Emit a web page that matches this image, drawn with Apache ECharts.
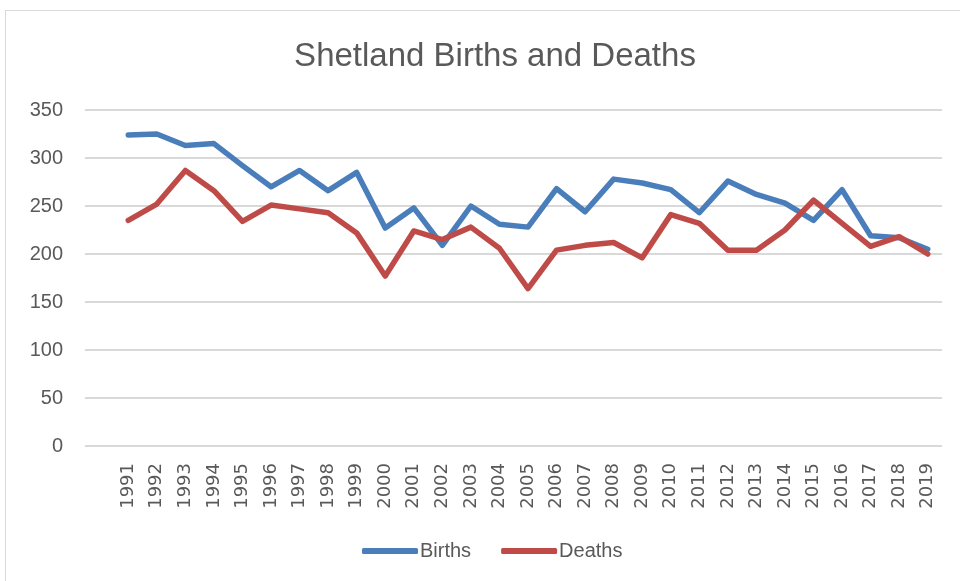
<!DOCTYPE html>
<html>
<head>
<meta charset="utf-8">
<script src="https://cdn.jsdelivr.net/npm/echarts@6/dist/echarts.min.js"></script>
<style>
  html, body { margin: 0; padding: 0; background: #fff; }
  #chart1 { position: absolute; left: 0; top: 0; width: 960px; height: 581px; }
  #frame { position: absolute; left: 5px; top: 10px; width: 960px; height: 580px; border: 1px solid #d9d9d9; pointer-events: none; }
</style>
</head>
<body>
<div id="frame"></div>
<div id="chart1"></div>
<script>
var years = ['1991','1992','1993','1994','1995','1996','1997','1998','1999','2000',
             '2001','2002','2003','2004','2005','2006','2007','2008','2009','2010',
             '2011','2012','2013','2014','2015','2016','2017','2018','2019'];
var births = [324, 325, 313, 315, 292, 270, 287, 266, 285, 227,
              248, 209, 250, 231, 228, 268, 244, 278, 274, 267,
              243, 276, 262, 253, 235, 267, 219, 217, 205];
var deaths = [235, 252, 287, 266, 234, 251, 247, 243, 222, 177,
              224, 215, 228, 206, 164, 204, 209, 212, 196, 241,
              232, 204, 204, 225, 256, 232, 208, 218, 200];
var yTicks = { min: 0, max: 350, interval: 50 };

var myChart1 = echarts.init(document.getElementById('chart1'));

var textColor = '#595959';
var option = {
    animation: false,
    title: {
        text: 'Shetland Births and Deaths',
        left: 490,
        textAlign: 'center',
        top: 35,
        textStyle: { fontFamily: 'Liberation Sans', fontSize: 33, fontWeight: 'normal', color: textColor }
    },
    legend: {
        data: ['Births', 'Deaths'],
        left: 357,
        top: 536,
        icon: 'roundRect',
        itemWidth: 56,
        itemHeight: 6,
        itemGap: 30,
        textStyle: { fontFamily: 'Liberation Sans', fontSize: 20, color: textColor, padding: [0, 0, 0, -3] }
    },
    grid: [
        { left: 114, right: 18, top: 110, bottom: 135 },
        { left: 85, right: 18, top: 110, bottom: 135 }
    ],
    xAxis: [
        {
            type: 'category',
            gridIndex: 0,
            data: years,
            boundaryGap: true,
            axisLine: { show: false },
            axisTick: { show: false },
            axisLabel: {
                rotate: 90,
                interval: 0,
                margin: 17,
                fontFamily: 'DejaVu Sans',
                fontSize: 18,
                color: textColor
            }
        },
        {
            type: 'category',
            gridIndex: 1,
            data: years,
            show: false
        }
    ],
    yAxis: [
        {
            type: 'value',
            gridIndex: 0,
            min: yTicks.min, max: yTicks.max, interval: yTicks.interval,
            axisLine: { show: false },
            axisTick: { show: false },
            axisLabel: { show: false },
            splitLine: { show: false }
        },
        {
            type: 'value',
            gridIndex: 1,
            min: yTicks.min, max: yTicks.max, interval: yTicks.interval,
            axisLine: { show: false },
            axisTick: { show: false },
            axisLabel: { margin: 22, fontFamily: 'Liberation Sans', fontSize: 20, color: textColor },
            splitLine: { lineStyle: { color: '#d9d9d9', width: 2 } }
        }
    ],
    series: [
        {
            name: 'Births',
            type: 'line',
            xAxisIndex: 0, yAxisIndex: 0,
            data: births,
            symbol: 'none',
            color: '#4a7ebb',
            lineStyle: { width: 5.5, color: '#4a7ebb', cap: 'round', join: 'round' }
        },
        {
            name: 'Deaths',
            type: 'line',
            xAxisIndex: 0, yAxisIndex: 0,
            data: deaths,
            symbol: 'none',
            color: '#be4b48',
            lineStyle: { width: 5.5, color: '#be4b48', cap: 'round', join: 'round' }
        }
    ]
};
myChart1.setOption(option);
</script>
</body>
</html>
